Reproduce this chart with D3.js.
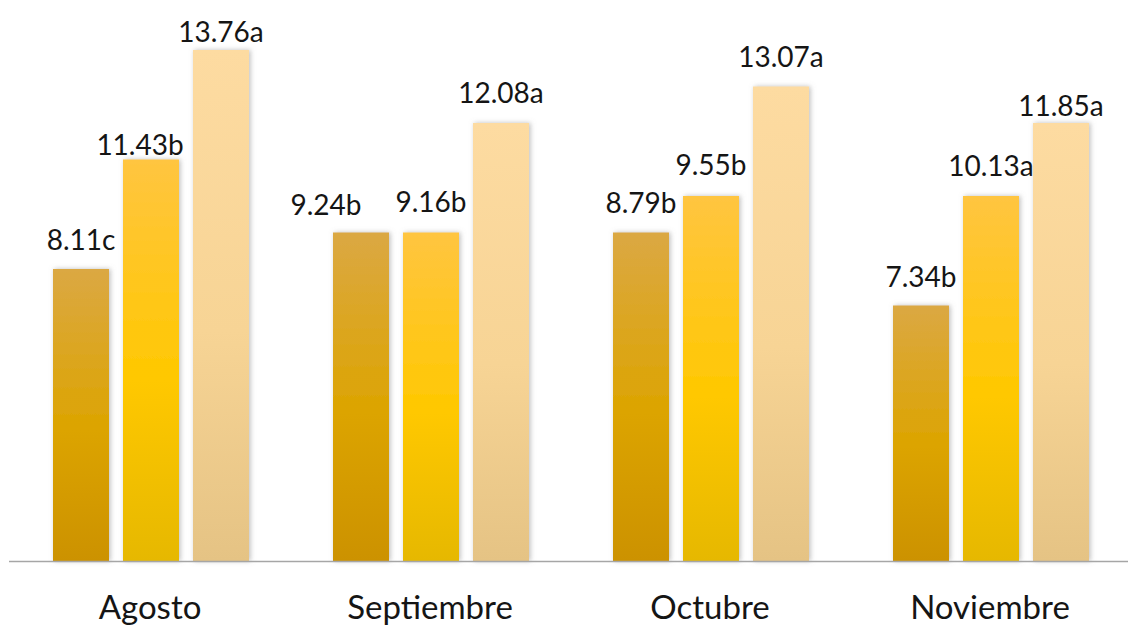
<!DOCTYPE html>
<html>
<head>
<meta charset="utf-8">
<script src="https://cdn.jsdelivr.net/npm/d3@7"></script>
<style>
  body { margin: 0; background: #fff; }
  svg { display: block; }
</style>
</head>
<body>
<div id="chartDiv"></div>
<script>
const months = ['Agosto', 'Septiembre', 'Octubre', 'Noviembre'];
const series1 = [8.11, 9.24, 8.79, 7.34];
const series2 = [11.43, 9.16, 9.55, 10.13];
const series3 = [13.76, 12.08, 13.07, 11.85];
const letters1 = ['c', 'b', 'b', 'b'];
const letters2 = ['b', 'b', 'b', 'a'];
const letters3 = ['a', 'a', 'a', 'a'];

// label placement tweaks [dx, gap above bar] per month, per series
const labelNudge = [
  [[0, 19], [-11, 5], [0, 8]],
  [[-35, 18], [0, 21], [0, 20]],
  [[0, 20], [0, 21], [0, 20]],
  [[0, 19], [0, 20], [0, 7]]
];

const width = 1129, height = 626;
const baseY = 561;

// gradient stops for each series: top, middle, bottom
const colors = [
  ['#dba843', '#dca400', '#cc9200'],
  ['#ffc540', '#ffc800', '#e6b800'],
  ['#fddba1', '#f7d495', '#e5c384']
];

const data = months.map((m, i) => ({
  month: m,
  bars: [
    {i, s: 0, value: series1[i], letter: letters1[i]},
    {i, s: 1, value: series2[i], letter: letters2[i]},
    {i, s: 2, value: series3[i], letter: letters3[i]}
  ]
}));

const x0 = d3.scaleBand().domain(months).range([10, 1130]);
const x1 = d3.scaleBand().domain([0, 1, 2]).range([43, 239]).paddingInner(0.2);
const y = d3.scaleLinear().domain([0, 14]).range([baseY, 50]);

const svg = d3.create("svg")
  .attr("width", width)
  .attr("height", height);

const defs = svg.append("defs");
colors.forEach((c, i) => {
  const g = defs.append("linearGradient")
    .attr("id", "grad" + i)
    .attr("x1", 0).attr("y1", 0).attr("x2", 0).attr("y2", 1);
  g.append("stop").attr("offset", "0%").attr("stop-color", c[0]);
  g.append("stop").attr("offset", "55%").attr("stop-color", c[1]);
  g.append("stop").attr("offset", "100%").attr("stop-color", c[2]);
});

const shadow = defs.append("filter").attr("id", "shadow")
  .attr("x", "-30%").attr("y", "-10%").attr("width", "160%").attr("height", "120%");
shadow.append("feDropShadow")
  .attr("dx", 1.5).attr("dy", 0).attr("stdDeviation", 2.5)
  .attr("flood-color", "#888").attr("flood-opacity", 0.55);

const groups = svg.append("g")
  .selectAll("g")
  .data(data)
  .join("g")
  .attr("transform", d => `translate(${x0(d.month)},0)`);

// the original chart draws bar heights at the rounded values
groups.selectAll("rect")
  .data(d => d.bars)
  .join("rect")
  .attr("x", d => x1(d.s))
  .attr("width", x1.bandwidth())
  .attr("y", d => y(Math.round(d.value)))
  .attr("height", d => baseY - y(Math.round(d.value)))
  .attr("fill", d => `url(#grad${d.s})`)
  .attr("filter", "url(#shadow)");

groups.selectAll("text.val")
  .data(d => d.bars)
  .join("text")
  .attr("class", "val")
  .attr("x", d => x1(d.s) + x1.bandwidth() / 2 + labelNudge[d.i][d.s][0])
  .attr("y", d => y(Math.round(d.value)) - labelNudge[d.i][d.s][1])
  .attr("text-anchor", "middle")
  .attr("font-family", "Lato, sans-serif")
  .attr("font-size", 28)
  .attr("fill", "#151515")
  .text(d => d.value.toFixed(2) + d.letter);

// baseline
svg.append("line")
  .attr("x1", 9).attr("x2", 1128)
  .attr("y1", baseY + 0.5).attr("y2", baseY + 0.5)
  .attr("stroke", "#a6a6a6")
  .attr("stroke-width", 1.5);

svg.append("g")
  .selectAll("text")
  .data(months)
  .join("text")
  .attr("x", d => x0(d) + x0.bandwidth() / 2)
  .attr("y", 619)
  .attr("text-anchor", "middle")
  .attr("font-family", "Lato, sans-serif")
  .attr("font-size", 33)
  .attr("fill", "#151515")
  .text(d => d);

document.getElementById("chartDiv").appendChild(svg.node());
</script>
</body>
</html>
